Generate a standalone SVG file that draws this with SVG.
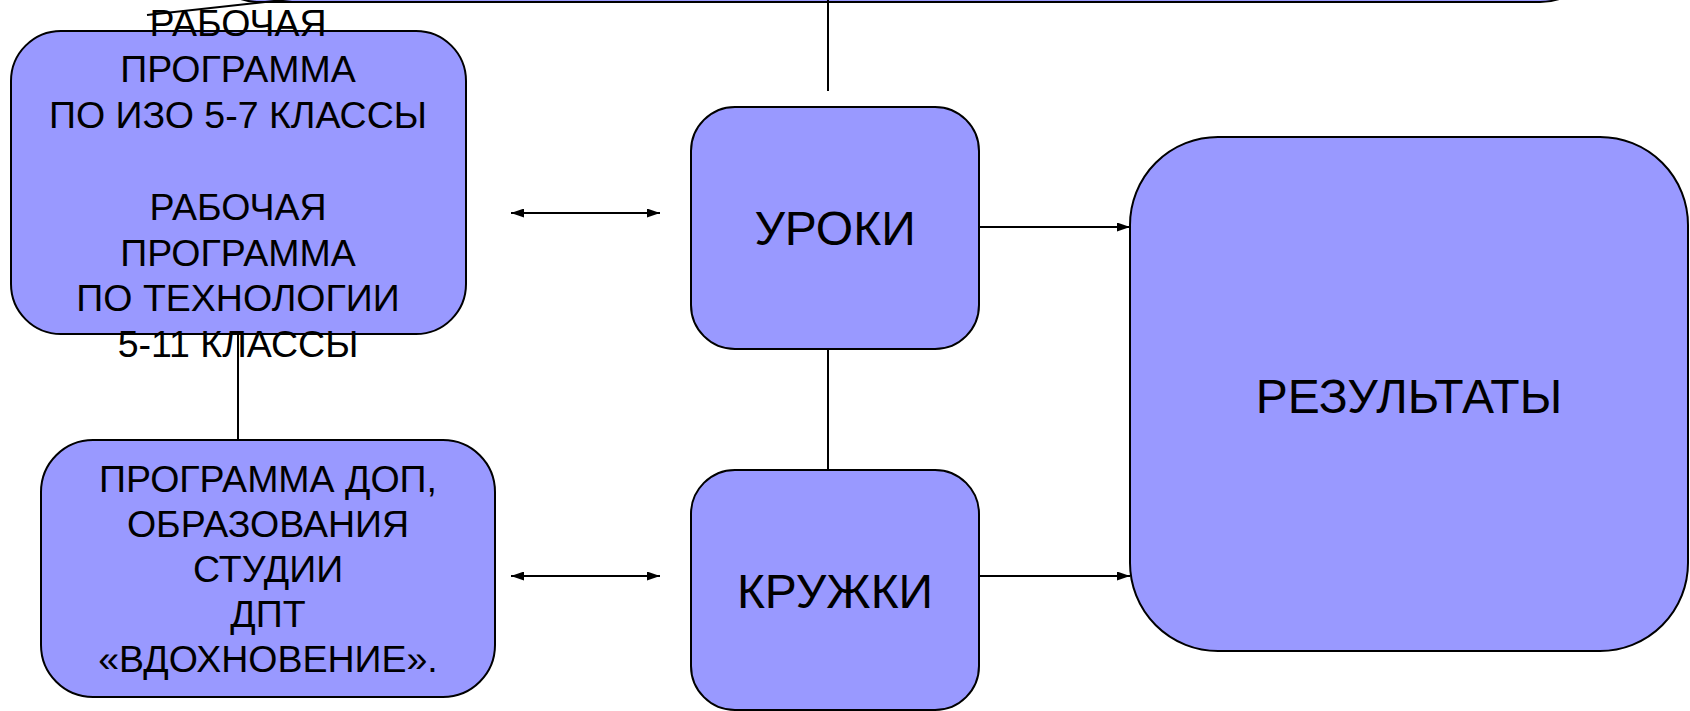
<svg xmlns="http://www.w3.org/2000/svg" width="1690" height="711" viewBox="0 0 1690 711">
<style>
.box{fill:#9999ff;stroke:#000;stroke-width:2}
.t{font-family:"Liberation Sans",Arial,sans-serif;fill:#000;text-anchor:middle}
.s{font-size:37.5px}
.b{font-size:48px}
.c{stroke:#000;stroke-width:2;fill:none}
</style>
<defs>
<marker id="ah" viewBox="0 0 13 9" refX="13" refY="4.5" markerWidth="13" markerHeight="9" markerUnits="userSpaceOnUse" orient="auto-start-reverse">
<path d="M0,0 L13,4.5 L0,9 Z" fill="#000"/>
</marker>
</defs>
<g id="top-node">
<rect class="box" x="200" y="-200" width="1400" height="202" rx="60" ry="60"/>
</g>
<g id="connectors">
<line class="c" x1="147" y1="15" x2="292" y2="-1"/>
<line class="c" x1="828" y1="0" x2="828" y2="91"/>
<line class="c" x1="828" y1="349" x2="828" y2="470"/>
<line class="c" x1="238" y1="334" x2="238" y2="440"/>
<line class="c" x1="511" y1="213" x2="660" y2="213" marker-start="url(#ah)" marker-end="url(#ah)"/>
<line class="c" x1="511" y1="576" x2="660" y2="576" marker-start="url(#ah)" marker-end="url(#ah)"/>
<line class="c" x1="979" y1="227" x2="1130" y2="227" marker-end="url(#ah)"/>
<line class="c" x1="979" y1="576" x2="1130" y2="576" marker-end="url(#ah)"/>
</g>
<g id="work-programs">
<rect class="box" x="11" y="31" width="455" height="303" rx="50" ry="50"/>
<text class="t s" x="238" y="36">РАБОЧАЯ</text>
<text class="t s" x="238" y="82">ПРОГРАММА</text>
<text class="t s" x="238" y="128">ПО ИЗО 5-7 КЛАССЫ</text>
<text class="t s" x="238" y="220">РАБОЧАЯ</text>
<text class="t s" x="238" y="266">ПРОГРАММА</text>
<text class="t s" x="238" y="311">ПО ТЕХНОЛОГИИ</text>
<text class="t s" x="238" y="357">5-11 КЛАССЫ</text>
</g>
<g id="dop-program">
<rect class="box" x="41" y="440" width="454" height="257" rx="52" ry="52"/>
<text class="t s" x="268" y="492">ПРОГРАММА ДОП,</text>
<text class="t s" x="268" y="537">ОБРАЗОВАНИЯ</text>
<text class="t s" x="268" y="582">СТУДИИ</text>
<text class="t s" x="268" y="627">ДПТ</text>
<text class="t s" x="268" y="672">«ВДОХНОВЕНИЕ».</text>
</g>
<g id="uroki">
<rect class="box" x="691" y="107" width="288" height="242" rx="44" ry="44"/>
<text class="t b" x="835" y="245">УРОКИ</text>
</g>
<g id="kruzhki">
<rect class="box" x="691" y="470" width="288" height="240" rx="44" ry="44"/>
<text class="t b" x="835" y="608">КРУЖКИ</text>
</g>
<g id="results">
<rect class="box" x="1130" y="137" width="558" height="514" rx="88" ry="88"/>
<text class="t b" x="1409" y="413">РЕЗУЛЬТАТЫ</text>
</g>
</svg>
